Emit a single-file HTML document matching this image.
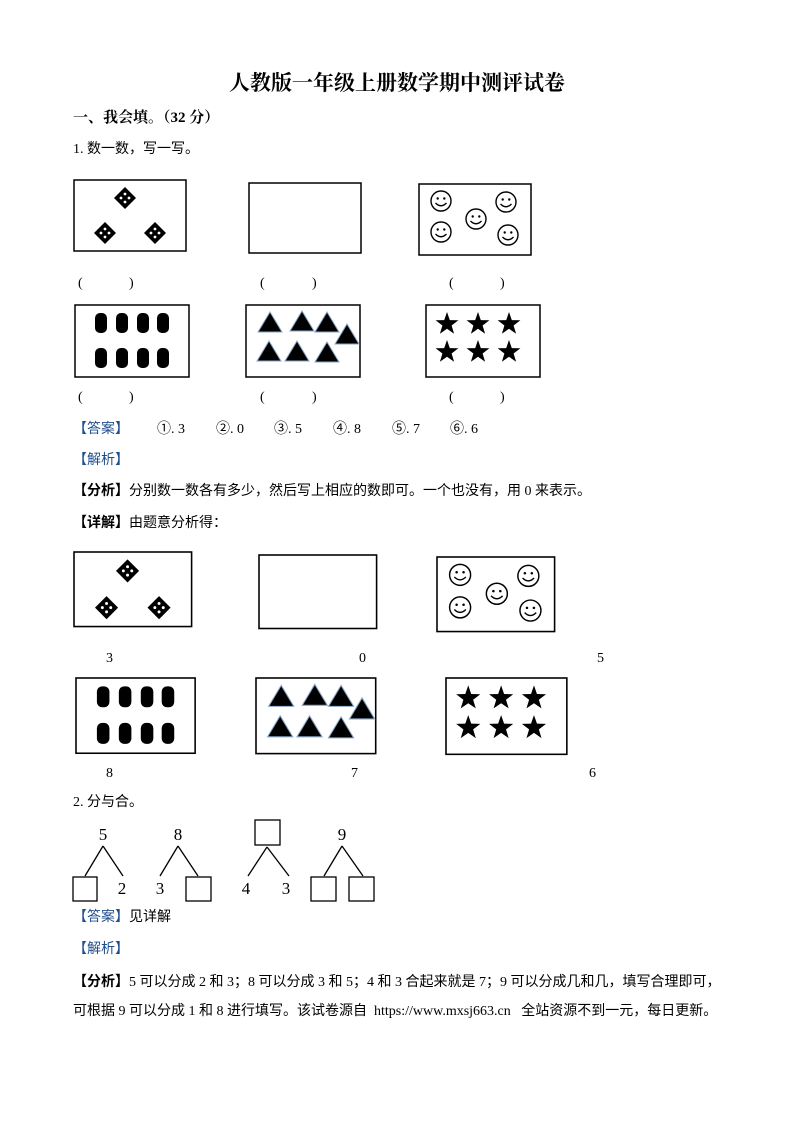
<!DOCTYPE html>
<html><head><meta charset="utf-8">
<style>
html,body{margin:0;padding:0;background:#fff;}
body{width:794px;height:1123px;position:relative;overflow:hidden;font-family:"Liberation Serif","Noto Serif CJK SC","Noto Sans CJK SC",serif;color:#000;}
.t{position:absolute;white-space:nowrap;font-size:14px;line-height:16px;font-family:"Liberation Serif","Noto Sans CJK SC",sans-serif;}
.b{color:#1f4e8c;}
.k{font-weight:bold;}
</style></head><body>
<div class="t k" style="left:0;width:794px;text-align:center;top:71px;font-size:21px;line-height:24px;font-family:'Liberation Serif','Noto Serif CJK SC',serif;">人教版一年级上册数学期中测评试卷</div>
<div class="t k" style="left:73px;top:110px;font-family:'Liberation Serif','Noto Serif CJK SC',serif;font-size:15px;">一、我会填。（32 分）</div>
<div class="t" style="left:73px;top:142px;">1. 数一数，写一写。</div>

<div class="t" style="left:78px;top:276px;">(</div><div class="t" style="left:129px;top:276px;">)</div>
<div class="t" style="left:260px;top:276px;">(</div><div class="t" style="left:312px;top:276px;">)</div>
<div class="t" style="left:449px;top:276px;">(</div><div class="t" style="left:500px;top:276px;">)</div>
<div class="t" style="left:78px;top:390px;">(</div><div class="t" style="left:129px;top:390px;">)</div>
<div class="t" style="left:260px;top:390px;">(</div><div class="t" style="left:312px;top:390px;">)</div>
<div class="t" style="left:449px;top:390px;">(</div><div class="t" style="left:500px;top:390px;">)</div>

<div class="t b" style="left:73px;top:422px;">【答案】</div>
<div class="t" style="left:157px;top:422px;">①. 3</div>
<div class="t" style="left:216px;top:422px;">②. 0</div>
<div class="t" style="left:274px;top:422px;">③. 5</div>
<div class="t" style="left:333px;top:422px;">④. 8</div>
<div class="t" style="left:392px;top:422px;">⑤. 7</div>
<div class="t" style="left:450px;top:422px;">⑥. 6</div>
<div class="t b" style="left:73px;top:453px;">【解析】</div>
<div class="t" style="left:73px;top:484px;"><span class="k">【分析】</span>分别数一数各有多少，然后写上相应的数即可。一个也没有，用 0 来表示。</div>
<div class="t" style="left:73px;top:516px;"><span class="k">【详解】</span>由题意分析得：</div>

<div class="t" style="left:106px;top:651px;">3</div>
<div class="t" style="left:359px;top:651px;">0</div>
<div class="t" style="left:597px;top:651px;">5</div>
<div class="t" style="left:106px;top:766px;">8</div>
<div class="t" style="left:351px;top:766px;">7</div>
<div class="t" style="left:589px;top:766px;">6</div>

<div class="t" style="left:73px;top:795px;">2. 分与合。</div>

<div class="t b" style="left:73px;top:910px;">【答案】<span style="color:#000">见详解</span></div>
<div class="t b" style="left:73px;top:942px;">【解析】</div>
<div class="t" style="left:73px;top:975px;"><span class="k">【分析】</span>5 可以分成 2 和 3；8 可以分成 3 和 5；4 和 3 合起来就是 7；9 可以分成几和几，填写合理即可，</div>
<div class="t" style="left:73px;top:1004px;">可根据 9 可以分成 1 和 8 进行填写。该试卷源自 &nbsp;https://www.mxsj663.cn &nbsp;&nbsp;全站资源不到一元，每日更新。</div>

<svg width="794" height="1123" style="position:absolute;left:0;top:0" xmlns="http://www.w3.org/2000/svg">
<defs>
<g id="dia"><polygon points="0,-11 11,0 0,11 -11,0" fill="#000"/><circle cx="-4" cy="0" r="1.4" fill="#fff"/><circle cx="4" cy="0" r="1.4" fill="#fff"/><circle cx="0" cy="-4" r="1.4" fill="#fff"/><circle cx="0" cy="4" r="1.4" fill="#fff"/></g>
<g id="sm"><circle r="10" fill="#fff" stroke="#000" stroke-width="1.4"/><circle cx="-3.3" cy="-2.5" r="1.2"/><circle cx="3.3" cy="-2.5" r="1.2"/><path d="M-5.5,2 Q0,7.5 5.5,2" fill="none" stroke="#000" stroke-width="1.3"/></g>
<rect id="pill" x="-6" y="-10" width="12" height="20" rx="5" fill="#000"/>
<polygon id="tri" points="0,-11 12,9 -12,9" fill="#000" stroke="#8aa6c8" stroke-width="1"/>
<polygon id="star" points="0,-12 2.8,-3.9 11.4,-3.7 4.6,1.5 7.1,9.7 0,4.8 -7.1,9.7 -4.6,1.5 -11.4,-3.7 -2.8,-3.9" fill="#000"/>
<g id="b1"><rect x="0" y="0" width="112" height="71" fill="#fff" stroke="#000" stroke-width="1.5"/><use href="#dia" x="51" y="18"/><use href="#dia" x="31" y="53"/><use href="#dia" x="81" y="53"/></g>
<g id="b2"><rect x="0" y="0" width="112" height="70" fill="#fff" stroke="#000" stroke-width="1.5"/></g>
<g id="b3"><rect x="0" y="0" width="112" height="71" fill="#fff" stroke="#000" stroke-width="1.5"/><use href="#sm" x="22" y="17"/><use href="#sm" x="87" y="18"/><use href="#sm" x="57" y="35"/><use href="#sm" x="22" y="48"/><use href="#sm" x="89" y="51"/></g>
<g id="b4"><rect x="0" y="0" width="114" height="72" fill="#fff" stroke="#000" stroke-width="1.5"/><use href="#pill" x="26" y="18"/><use href="#pill" x="47" y="18"/><use href="#pill" x="68" y="18"/><use href="#pill" x="88" y="18"/><use href="#pill" x="26" y="53"/><use href="#pill" x="47" y="53"/><use href="#pill" x="68" y="53"/><use href="#pill" x="88" y="53"/></g>
<g id="b5"><rect x="0" y="0" width="114" height="72" fill="#fff" stroke="#000" stroke-width="1.5"/><use href="#tri" x="24" y="18"/><use href="#tri" x="56" y="17"/><use href="#tri" x="81" y="18"/><use href="#tri" x="101" y="30"/><use href="#tri" x="23" y="47"/><use href="#tri" x="51" y="47"/><use href="#tri" x="81" y="48"/></g>
<g id="b6"><rect x="0" y="0" width="114" height="72" fill="#fff" stroke="#000" stroke-width="1.5"/><use href="#star" x="21" y="19"/><use href="#star" x="52" y="19"/><use href="#star" x="83" y="19"/><use href="#star" x="21" y="47"/><use href="#star" x="52" y="47"/><use href="#star" x="83" y="47"/></g>
</defs>
<use href="#b1" transform="translate(74,180)"/>
<use href="#b2" transform="translate(249,183)"/>
<use href="#b3" transform="translate(419,184)"/>
<use href="#b4" transform="translate(75,305)"/>
<use href="#b5" transform="translate(246,305)"/>
<use href="#b6" transform="translate(426,305)"/>

<use href="#b1" transform="translate(74,552) scale(1.05)"/>
<use href="#b2" transform="translate(259,555) scale(1.05)"/>
<use href="#b3" transform="translate(437,557) scale(1.05)"/>
<use href="#b4" transform="translate(76,678) scale(1.045)"/>
<use href="#b5" transform="translate(256,678) scale(1.05)"/>
<use href="#b6" transform="translate(446,678) scale(1.06)"/>

<g font-family="Liberation Serif, serif" font-size="17" fill="#000" stroke="none">
<text x="103" y="840" text-anchor="middle">5</text>
<text x="122" y="894" text-anchor="middle">2</text>
<text x="178" y="840" text-anchor="middle">8</text>
<text x="160" y="894" text-anchor="middle">3</text>
<text x="246" y="894" text-anchor="middle">4</text>
<text x="286" y="894" text-anchor="middle">3</text>
<text x="342" y="840" text-anchor="middle">9</text>
</g>
<g fill="#fff" stroke="#000" stroke-width="1.3">
<path d="M103,846 L85,876 M103,846 L123,876 M178,846 L160,876 M178,846 L198,876 M267,847 L248,876 M267,847 L289,876 M342,846 L324,876 M342,846 L363,876" fill="none"/>
<rect x="73" y="877" width="24" height="24"/>
<rect x="186" y="877" width="25" height="24"/>
<rect x="255" y="820" width="25" height="25"/>
<rect x="311" y="877" width="25" height="24"/>
<rect x="349" y="877" width="25" height="24"/>
</g>
</svg>
</body></html>
